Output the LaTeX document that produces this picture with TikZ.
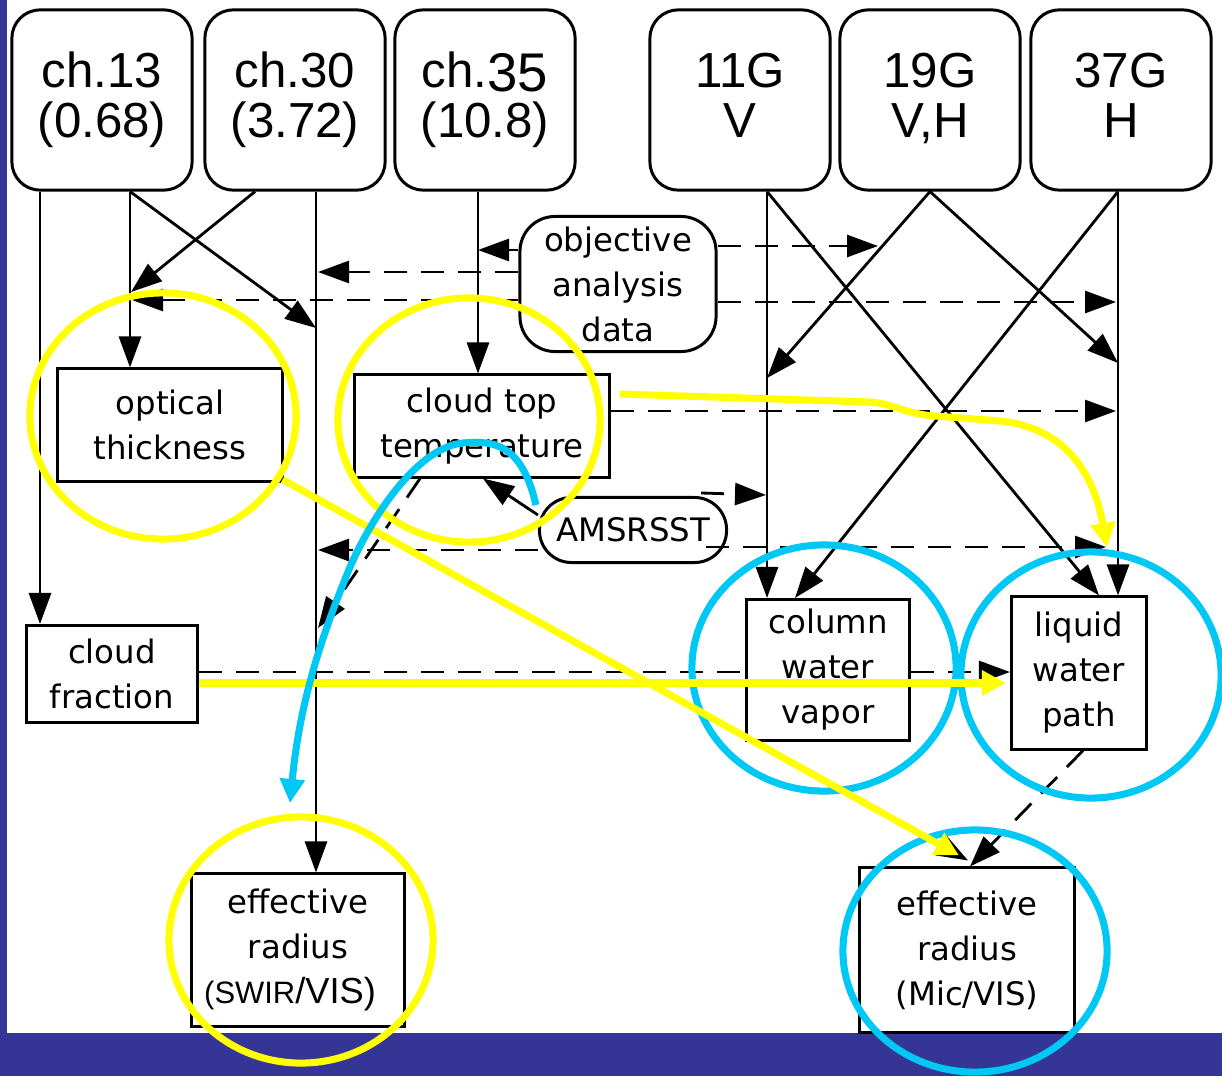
\documentclass[tikz,border=0pt]{standalone}
\usepackage{fontspec}
\setmainfont{Liberation Sans}
\newfontfamily\lblfont{DejaVu Sans}
\usepackage{tikz}
\usetikzlibrary{arrows.meta}
\usetikzlibrary{calc}
\tikzset{>=stealth}
\definecolor{slideblue}{RGB}{53,53,150}
\definecolor{hlyellow}{RGB}{255,255,0}
\definecolor{hlcyan}{RGB}{0,200,245}
\tikzset{
  chan/.style={draw, line width=0.85pt, fill=white, rounded corners=0.28cm, minimum width=1.8cm, minimum height=1.8cm, inner sep=0pt, align=center, font=\fontsize{14}{14.2}\selectfont},
  prod/.style={draw, line width=0.85pt, fill=white, inner sep=0pt, align=center, font=\lblfont\fontsize{9.2}{12.8}\selectfont},
  aux/.style={prod, rounded corners=0.32cm},
  arr/.style={-{Triangle[length=3.1mm,width=2.2mm]}, line width=0.8pt},
  dsh/.style={arr, dash pattern=on 0.23cm off 0.14cm},
  yel/.style={draw=hlyellow, line width=2pt},
  cya/.style={draw=hlcyan, line width=2pt},
  hl/.style={-{Triangle[length=2.4mm,width=2.4mm]}}
}

\begin{document}
\begin{tikzpicture}[x=0.01cm, y=-0.01cm]
      \useasboundingbox (0,0) rectangle (1222,1076);
      \fill[white] (0,0) rectangle (1222,1076);
      \fill[slideblue] (0,0) rectangle (7,1076);
      \fill[slideblue] (0,1033) rectangle (1222,1076);

      \node[chan] (ch13) at (102,100) {ch.13\\(0.68)};
      \node[chan] (ch30) at (295,100) {ch.30\\(3.72)};
      \node[chan] (ch35) at (485,100) {ch.{\fontsize{15.5}{14.2}\selectfont\raisebox{-1pt}{35}}\\(10.8)};
      \node[chan] (g11) at (740,100) {11G\\V\vphantom{(}};
      \node[chan] (g19) at (930,100) {19G\\V,H\vphantom{(}};
      \node[chan] (g37) at (1121,100) {37G\\H\vphantom{(}};
      \node[aux, minimum width=1.96cm, minimum height=1.35cm, rounded corners=0.35cm] (oad) at (618,284) {objective\\analysis\\data};
      \node[prod, minimum width=2.24cm, minimum height=1.12cm] (optk) at (170,425) {optical\\thickness};
      \node[prod, minimum width=2.54cm, minimum height=1.02cm] (ctt) at (482,426) {cloud top\\temperature};
      \node[aux, minimum width=1.87cm, minimum height=0.65cm] (ams) at (633,530) {AMSRSST};
      \node[prod, minimum width=1.71cm, minimum height=0.97cm] (cfrac) at (112,674) {cloud\\fraction};
      \node[prod, minimum width=1.63cm, minimum height=1.41cm] (cwv) at (828,670) {column\\water\\vapor};
      \node[prod, minimum width=1.35cm, minimum height=1.52cm] (lwp) at (1079,673) {liquid\\water\\path};
      \node[prod, minimum width=2.12cm, minimum height=1.52cm] (resw) at (298,950) {effective\\radius\\{\rmfamily\fontsize{8.8}{12.8}\selectfont(SWIR}{\rmfamily\fontsize{10.3}{12.8}\selectfont/VIS)}\hspace*{0.16cm}};
      \node[prod, minimum width=2.15cm, minimum height=1.64cm] (remv) at (967,950) {effective\\radius\\(Mic/VIS)};

      \coordinate (j1) at (316,328);
      \coordinate (j2) at (131,292);
      \coordinate (j3) at (478,250);
      \coordinate (j4) at (767,378);
      \coordinate (j5) at (1118,363);
      \coordinate (j6) at (318,272);
      \coordinate (j7) at (132,300);
      \coordinate (j8) at (878,246);
      \coordinate (j9) at (1116,302);
      \coordinate (j10) at (1116,411);
      \coordinate (j11) at (766,495);
      \coordinate (j12) at (318,550);
      \coordinate (j13) at (1106,547);
      \coordinate (j14) at (318,628);
      \coordinate (j15) at (1107,547);
      \coordinate (j16) at (290,803);

      \draw[arr] (ch13.south -| 40,0) -- (cfrac.north -| 40,0);
      \draw[arr] (ch13.south -| 130,0) -- (optk.north -| 130,0);
      \draw[arr] (ch13.south -| 130,0) -- (j1);
      \draw[arr] (ch30.south -| 255,0) -- (j2);
      \draw[arr] (ch30.south -| 316,0) -- (resw.north -| 316,0);
      \draw[arr] (ch35.south -| 478,0) -- (ctt.north -| 478,0);
      \draw[arr] (oad.west |- 0,250) -- (j3);
      \draw[arr] (g11.south -| 767,0) -- (cwv.north -| 767,0);
      \draw[arr] (g11.south -| 767,0) -- (lwp.north -| 1099,0);
      \draw[arr] (g19.south) -- (j4);
      \draw[arr] (g19.south) -- (j5);
      \draw[arr] (g37.south -| 1118,0) -- (cwv.north -| 795,0);
      \draw[arr] (g37.south -| 1118,0) -- (lwp.north -| 1118,0);
      \draw[arr] ($(ams.west)+(0,-15)$) -- (ctt.south -| 483,0);

      \draw[dsh] (oad.west |- 0,272) -- (j6);
      \draw[dsh] (oad.west |- 0,300) -- (j7);
      \draw[dsh] (oad.east |- 0,246) -- (j8);
      \draw[dsh] (oad.east |- 0,302) -- (j9);
      \draw[dsh] (ctt.east |- 0,411) -- (j10);
      \draw[dsh] ($(ams.north east)+(-27,-3)$) -- (j11);
      \draw[dsh] ($(ams.west)+(0,20)$) -- (j12);
      \draw[dsh] ($(ams.east)+(-22,17)$) -- (j13);
      \draw[dsh] (ctt.south -| 420,0) -- (j14);
      \draw[dsh,-] (cfrac.east |- 0,672) -- (cwv.west |- 0,672);
      \draw[dsh] (cwv.east |- 0,672) -- (lwp.west |- 0,672);
      \draw[dsh] (lwp.south -| 1083,0) -- (remv.north -| 970,0);
      \draw[arr] ($(optk.south east)+(-1,-3)$) -- ($(remv.north)+(1,-6)$);

      \draw[yel] (163,416) ellipse [x radius=1.33cm, y radius=1.23cm];
      \draw[yel] (469,420) ellipse [x radius=1.31cm, y radius=1.22cm];
      \draw[yel] (301,940) ellipse [x radius=1.32cm, y radius=1.23cm];
      \draw[cya] (824,668) ellipse [x radius=1.32cm, y radius=1.23cm];
      \draw[cya] (1091,675) ellipse [x radius=1.30cm, y radius=1.23cm];
      \draw[cya] (975,951) ellipse [x radius=1.32cm, y radius=1.21cm];

      \draw[yel, hl] ($(optk.south east)+(-1,-3)$) -- ($(remv.north)+(-8,-11)$);
      \draw[yel, hl, shorten >=0.04cm] (cfrac.east |- 0,683) -- (lwp.west |- 0,683);
      \draw[yel, hl] ($(ctt.east)+(9,-32)$) -- (870,402) .. controls (895,404) and (905,414) .. (935,416) -- (1000,421) .. controls (1070,428) and (1095,480) .. (j15);
      \draw[cya, hl] ($(ams.west)+(-2,-25)$) .. controls (522,445) and (495,440) .. (463,443) .. controls (420,447) and (375,510) .. (350,567) .. controls (322,635) and (300,700) .. (j16);
\end{tikzpicture}
\end{document}
